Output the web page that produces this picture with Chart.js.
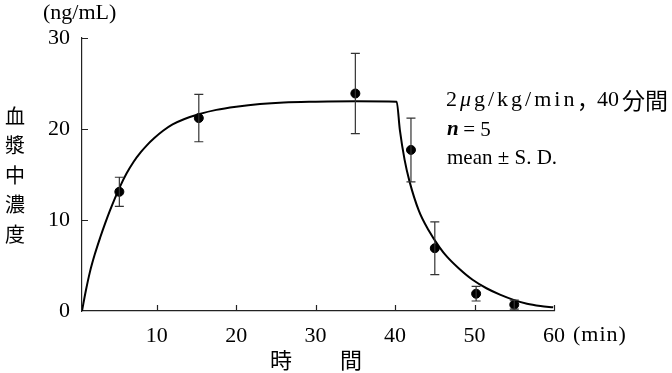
<!DOCTYPE html>
<html>
<head>
<meta charset="utf-8">
<script src="https://cdn.jsdelivr.net/npm/chart.js@4"></script>
<style>
  html, body { margin: 0; padding: 0; background: #fff; }
  canvas { display: block; }
</style>
</head>
<body>
<canvas id="pkChart" width="672" height="373"></canvas>
<script>
// fitted curve (min, ng/mL)
const curveTime = [0.6, 1.1, 1.6, 2.2, 2.9, 3.5, 4.1, 4.7, 5.4, 6.2, 7.1, 8.0, 8.7, 9.7, 10.8, 12.0, 13.5,
    15.4, 17.5, 20, 23, 26, 30, 35, 40.2,
    40.6, 41.2, 41.8, 43.0, 44.2, 45.6, 46.5, 48, 49.8, 51.5, 53.2, 55, 56.6, 58.3, 59.9];
const curveConc = [0, 2.3, 4.3, 6.2, 8.1, 9.6, 11.0, 12.3, 13.7, 15.1, 16.4, 17.45, 18.15, 19.0, 19.8, 20.5, 21.1,
    21.65, 22.1, 22.45, 22.75, 22.92, 23.0, 23.05, 23.0,
    19.9, 16.6, 14.3, 11.0, 8.9, 7.0, 6.0, 4.7, 3.4, 2.5, 1.8, 1.2, 0.8, 0.55, 0.4];

// observed mean and S.D.
const obsTime = [5.3, 15.3, 35, 42, 45, 50.2, 55];
const obsMean = [13.1, 21.2, 23.9, 17.7, 6.9, 1.9, 0.7];
const obsSD = [1.6, 2.6, 4.4, 3.5, 2.9, 0.8, 0.5];

const xTicks = [10, 20, 30, 40, 50, 60];
const yTicks = [0, 10, 20, 30];

const serif = "'Liberation Serif', 'Times New Roman', serif";
const jp = "'Noto Sans CJK JP', sans-serif";

const errorBarsPlugin = {
    id: 'errorBars',
    afterDatasetsDraw: (chart) => {
        const {ctx, scales} = chart;
        ctx.save();
        ctx.strokeStyle = '#333';
        ctx.lineWidth = 1.2;
        for (let i = 0; i < obsTime.length; i++) {
            const x = scales.x.getPixelForValue(obsTime[i]);
            const yTop = scales.y.getPixelForValue(obsMean[i] + obsSD[i]);
            const yBot = scales.y.getPixelForValue(Math.max(0, obsMean[i] - obsSD[i]));
            ctx.beginPath();
            ctx.moveTo(x, yTop);
            ctx.lineTo(x, yBot);
            ctx.moveTo(x - 4.5, yTop);
            ctx.lineTo(x + 4.5, yTop);
            ctx.moveTo(x - 4.5, yBot);
            ctx.lineTo(x + 4.5, yBot);
            ctx.stroke();
        }
        ctx.restore();
    }
};

// inward tick marks + free text
const decorPlugin = {
    id: 'decor',
    afterDraw: (chart) => {
        const {ctx, chartArea, scales} = chart;
        ctx.save();
        ctx.strokeStyle = '#222';
        ctx.lineWidth = 1.2;
        ctx.beginPath();
        yTicks.slice(1).forEach(v => {
            const y = Math.round(scales.y.getPixelForValue(v)) + 0.5;
            ctx.moveTo(chartArea.left, y);
            ctx.lineTo(chartArea.left + 6, y);
        });
        xTicks.forEach(v => {
            const x = Math.round(scales.x.getPixelForValue(v)) + 0.5;
            ctx.moveTo(x, chartArea.bottom);
            ctx.lineTo(x, chartArea.bottom - 6);
        });
        ctx.stroke();

        ctx.fillStyle = '#000';
        ctx.textBaseline = 'middle';
        ctx.textAlign = 'left';
        ctx.font = '22px ' + serif;
        ctx.fillText('(ng/mL)', 43, 13);
        ctx.letterSpacing = '1px';
        ctx.fillText('(min)', 573, 335);
        ctx.letterSpacing = '0px';

        // y title, stacked
        ctx.textAlign = 'center';
        ctx.font = '20px ' + jp;
        const yTitle = '血漿中濃度';
        for (let i = 0; i < yTitle.length; i++) {
            ctx.fillText(yTitle[i], 15, 116 + i * 29.5);
        }
        // x title
        ctx.font = '22px ' + jp;
        ctx.fillText('時', 281, 360);
        ctx.fillText('間', 351, 360);

        // annotation
        ctx.textAlign = 'left';
        const y1 = 100;
        ctx.font = '22px ' + serif;
        ctx.fillText('2', 446, y1);
        ctx.font = 'italic 22px ' + serif;
        ctx.fillText('μ', 460, y1);
        ctx.font = '22px ' + serif;
        ctx.letterSpacing = '3px';
        ctx.fillText('g/kg/min', 474, y1);
        ctx.letterSpacing = '0px';
        ctx.font = '22px ' + jp;
        ctx.fillText('，', 577, y1);
        ctx.font = '22px ' + serif;
        ctx.fillText('40', 597, y1);
        ctx.font = '23px ' + jp;
        ctx.fillText('分間', 622, y1);

        ctx.font = 'italic bold 21px ' + serif;
        ctx.fillText('n', 447, 130);
        ctx.font = '21px ' + serif;
        ctx.fillText(' = 5', 458, 130);
        ctx.fillText('mean ± S. D.', 447, 158);
        ctx.restore();
    }
};

new Chart(document.getElementById('pkChart'), {
    type: 'scatter',
    data: {
        datasets: [{
            label: 'fit',
            data: curveTime.map((t, i) => ({x: t, y: curveConc[i]})),
            showLine: true,
            borderColor: '#000',
            borderWidth: 2,
            pointRadius: 0,
            cubicInterpolationMode: 'monotone',
            order: 2
        },
        {
            label: 'mean',
            data: obsTime.map((t, i) => ({x: t, y: obsMean[i]})),
            backgroundColor: '#000',
            borderColor: '#000',
            pointRadius: 4.5,
            order: 1
        }]
    },
    options: {
        responsive: false,
        animation: false,
        devicePixelRatio: 1,
        layout: {
            padding: {left: 0, top: 38, right: 118, bottom: 0}
        },
        scales: {
            x: {
                type: 'linear',
                min: 0.6,
                max: 60,
                afterBuildTicks: (scale) => {
                    scale.ticks = xTicks.map(v => ({value: v}));
                },
                afterFit: (scale) => { scale.height = 62; },
                grid: {display: false, drawTicks: false},
                border: {display: true, color: '#222', width: 1.2},
                ticks: {
                    color: '#000',
                    padding: 12,
                    maxRotation: 0,
                    autoSkip: false,
                    font: {family: serif, size: 22}
                }
            },
            y: {
                min: 0,
                max: 30,
                afterBuildTicks: (scale) => {
                    scale.ticks = yTicks.map(v => ({value: v}));
                },
                afterFit: (scale) => { scale.width = 82; },
                grid: {display: false, drawTicks: false},
                border: {display: true, color: '#222', width: 1.2},
                ticks: {
                    color: '#000',
                    padding: 12,
                    font: {family: serif, size: 22}
                }
            }
        },
        plugins: {
            legend: {display: false},
            tooltip: {enabled: false}
        }
    },
    plugins: [errorBarsPlugin, decorPlugin]
});
</script>
</body>
</html>
